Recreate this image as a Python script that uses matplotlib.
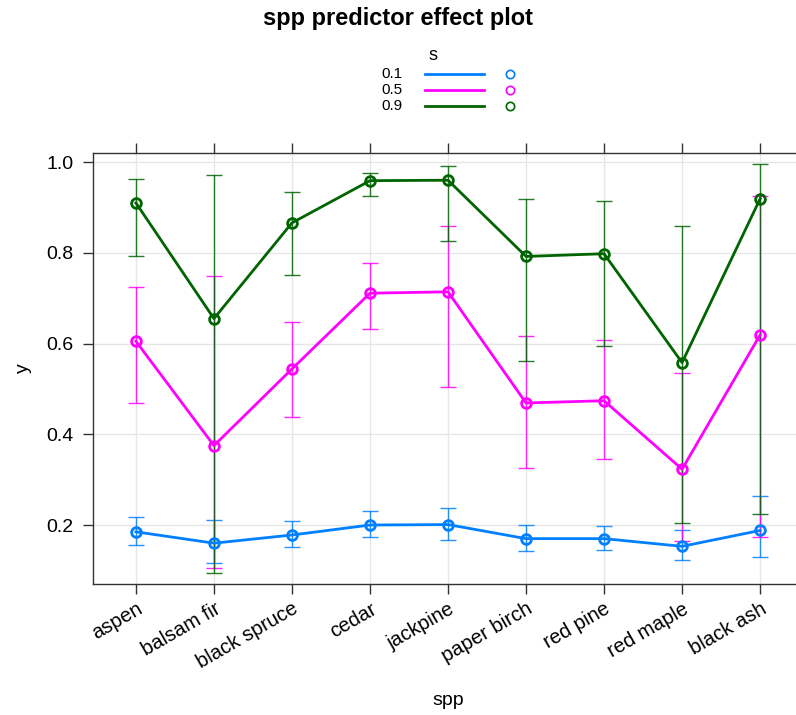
import matplotlib
matplotlib.use("Agg")
import matplotlib.pyplot as plt
from matplotlib.lines import Line2D

plt.rcParams['font.family'] = ['Liberation Sans', 'DejaVu Sans']

spp = ["aspen", "balsam fir", "black spruce", "cedar", "jackpine",
       "paper birch", "red pine", "red maple", "black ash"]
s_levels = ["0.1", "0.5", "0.9"]
colors = ["#0080ff", "#ff00ff", "#006400"]

fit_01 = [0.185, 0.160, 0.178, 0.200, 0.201, 0.170, 0.170, 0.153, 0.188]
low_01 = [0.157, 0.117, 0.152, 0.173, 0.168, 0.143, 0.146, 0.124, 0.129]
up_01 = [0.218, 0.212, 0.208, 0.231, 0.238, 0.200, 0.198, 0.188, 0.264]

fit_05 = [0.605, 0.375, 0.544, 0.711, 0.714, 0.469, 0.474, 0.323, 0.619]
low_05 = [0.470, 0.106, 0.437, 0.631, 0.504, 0.326, 0.345, 0.165, 0.174]
up_05 = [0.725, 0.749, 0.647, 0.777, 0.860, 0.617, 0.608, 0.536, 0.926]

fit_09 = [0.910, 0.655, 0.866, 0.959, 0.960, 0.792, 0.798, 0.558, 0.919]
low_09 = [0.793, 0.094, 0.751, 0.926, 0.826, 0.562, 0.594, 0.205, 0.224]
up_09 = [0.963, 0.971, 0.933, 0.977, 0.992, 0.918, 0.914, 0.859, 0.996]

fits = [fit_01, fit_05, fit_09]
lows = [low_01, low_05, low_09]
ups = [up_01, up_05, up_09]

W, H = 796, 715
fig = plt.figure(figsize=(W / 100, H / 100), dpi=100)
left, right, top, bottom = 93, 803, 153, 584
ax = fig.add_axes([left / W, (H - bottom) / H, (right - left) / W, (bottom - top) / H])

x = list(range(len(spp)))
for f, lo, up, c in zip(fits, lows, ups, colors):
    yerr = [[fi - li for fi, li in zip(f, lo)], [ui - fi for fi, ui in zip(f, up)]]
    ax.errorbar(x, f, yerr=yerr, fmt='none', ecolor=c, elinewidth=1.0,
                capsize=6, capthick=1.0, alpha=0.85, zorder=3)
    ax.plot(x, f, color=c, lw=2, marker='o', ms=7, mfc='none', mec=c, mew=2, zorder=4)

ax.set_xlim(-0.55, 8.55)
ax.set_ylim(0.07, 1.02)
ax.set_xticks(x)
ax.set_xticklabels(spp, rotation=30, ha='right', rotation_mode='anchor', fontsize=14.5)
ax.set_yticks([0.2, 0.4, 0.6, 0.8, 1.0])
ax.set_yticklabels(["0.2", "0.4", "0.6", "0.8", "1.0"], fontsize=14)
ax.tick_params(axis='both', direction='out', length=7, width=1, color='#333333',
               top=True, right=True, labeltop=False, labelright=False)
ax.tick_params(axis='y', pad=7)
ax.tick_params(axis='x', pad=4)
ax.grid(True, color='#e6e6e6', lw=1)
ax.set_axisbelow(True)
for sp in ax.spines.values():
    sp.set_color('#333333')
    sp.set_linewidth(1)
ax.set_ylabel("y", fontsize=14, labelpad=10)
ax.set_xlabel("spp", fontsize=14, labelpad=14)

fig.text(0.5, 1 - 18 / H, "spp predictor effect plot", ha='center', va='center',
         fontsize=17, fontweight='bold')
fig.text(433 / W, 1 - 55 / H, "s", ha='center', va='center', fontsize=13)
for i, (lab, c) in enumerate(zip(s_levels, colors)):
    yy = 1 - (74 + 16 * i) / H
    fig.text(403 / W, yy, lab, ha='right', va='center', fontsize=11)
    fig.add_artist(Line2D([425 / W, 484 / W], [yy, yy], color=c, lw=2, transform=fig.transFigure))
    fig.add_artist(Line2D([510 / W], [yy], color=c, marker='o', ms=6, mfc='none', mec=c,
                          mew=1.2, transform=fig.transFigure))

fig.savefig("out.png", dpi=100)
